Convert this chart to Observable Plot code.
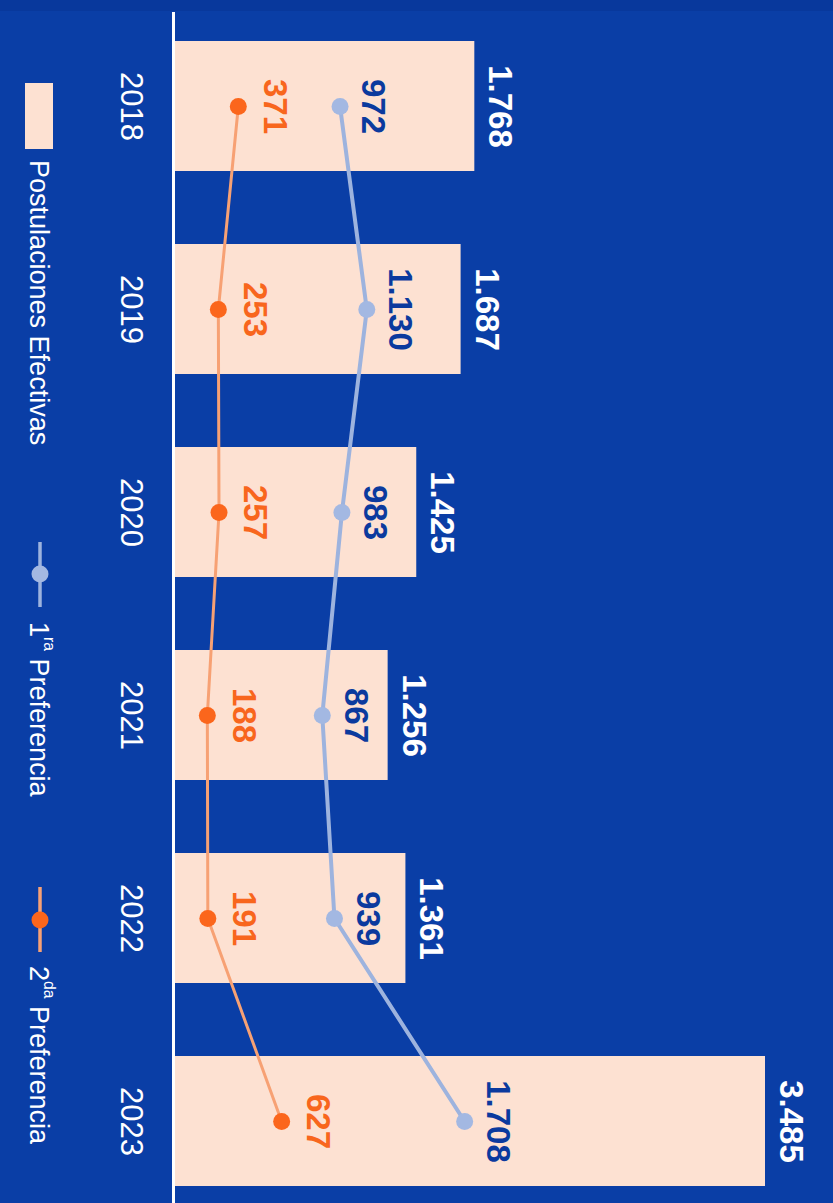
<!DOCTYPE html>
<html><head><meta charset="utf-8">
<script src="https://cdn.jsdelivr.net/npm/d3@7"></script>
<script src="https://cdn.jsdelivr.net/npm/@observablehq/plot@0.6"></script>
<style>
html,body{margin:0;padding:0;background:#0a3ea6;}
#wrap{position:relative;width:833px;height:1203px;overflow:hidden;background:#0a3ea6;font-family:"Liberation Sans",Arial,sans-serif;}
#topband{position:absolute;left:0;top:0;width:833px;height:11px;background:#08389c;}
#chart{position:absolute;left:0;top:0;}
.leg{position:absolute;writing-mode:vertical-rl;color:#fff;font-size:27px;line-height:30px;white-space:nowrap;}
.leg sup{font-size:58%;line-height:0;}
.sym{position:absolute;}
</style></head>
<body>
<div id="wrap">
  <div id="topband"></div>
  <div id="chart"></div>
  <svg class="sym" style="left:25px;top:83px" width="28" height="66"><rect width="28" height="66" fill="#fde1d2"/></svg>
  <div class="leg" style="left:24px;top:160px">Postulaciones Efectivas</div>
  <svg class="sym" style="left:28px;top:540px" width="24" height="70"><line x1="12" x2="12" y1="2" y2="67" stroke="#9db3de" stroke-width="3.5"/><circle cx="12" cy="34" r="8.5" fill="#a3b8e2"/></svg>
  <div class="leg" style="left:24px;top:622px">1<sup>ra</sup> Preferencia</div>
  <svg class="sym" style="left:28px;top:885px" width="24" height="70"><line x1="12" x2="12" y1="2" y2="67" stroke="#f7a174" stroke-width="3.5"/><circle cx="12" cy="35" r="8.5" fill="#fb661c"/></svg>
  <div class="leg" style="left:24px;top:966px">2<sup>da</sup> Preferencia</div>
</div>
<script>
const years = ["2018", "2019", "2020", "2021", "2022", "2023"];
const postulaciones = [1768, 1687, 1425, 1256, 1361, 3485];
const pref1 = [972, 1130, 983, 867, 939, 1708];
const pref2 = [371, 253, 257, 188, 191, 627];

const fmt = d3.formatLocale({decimal: ",", thousands: ".", grouping: [3], currency: ["$", ""]}).format(",d");
const data = years.map((y, i) => ({year: y, total: postulaciones[i], p1: pref1[i], p2: pref2[i]}));

const chart = Plot.plot({
  width: 833, height: 1203,
  marginTop: 12, marginBottom: 0, marginLeft: 0, marginRight: 0,
  style: {background: "transparent", fontFamily: "Liberation Sans, Arial, sans-serif"},
  x: {domain: [0, 3485], range: [175, 765], axis: null},
  y: {domain: years, range: [40, 1186], paddingInner: 0.36, paddingOuter: 0, axis: null},
  marks: [
    Plot.barX(data, {y: "year", x: "total", fill: "#fde1d2"}),
    Plot.ruleX([0], {stroke: "#ffffff", strokeWidth: 3, dx: -2}),
    Plot.line(data, {x: "p1", y: "year", stroke: "#9db3de", strokeWidth: 4, curve: "linear"}),
    Plot.line(data, {x: "p2", y: "year", stroke: "#f7a174", strokeWidth: 3, curve: "linear"}),
    Plot.dot(data, {x: "p1", y: "year", r: 8.5, fill: "#a3b8e2"}),
    Plot.dot(data, {x: "p2", y: "year", r: 8.5, fill: "#fb661c"}),
    Plot.text(data, {x: "total", y: "year", text: d => fmt(d.total), rotate: 90, dx: 25, fill: "#ffffff", fontSize: 33, fontWeight: "bold"}),
    Plot.text(data, {x: "p1", y: "year", text: d => fmt(d.p1), rotate: 90, dx: 33, fill: "#0b3a9e", fontSize: 33, fontWeight: "bold"}),
    Plot.text(data, {x: "p2", y: "year", text: d => fmt(d.p2), rotate: 90, dx: 36, fill: "#f8661d", fontSize: 33, fontWeight: "bold"}),
    Plot.text(data, {y: "year", text: "year", frameAnchor: "left", dx: 130, rotate: 90, textAnchor: "middle", fill: "#ffffff", fontSize: 31})
  ]
});
document.getElementById("chart").appendChild(chart);
</script>
</body></html>
